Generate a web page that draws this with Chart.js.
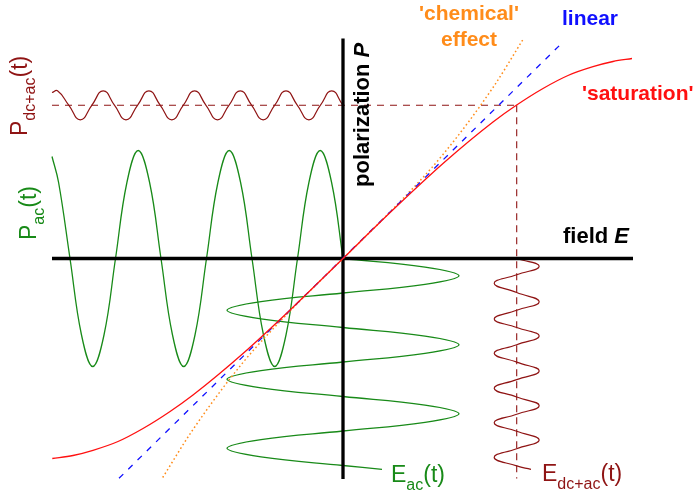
<!DOCTYPE html>
<html>
<head>
<meta charset="utf-8">
<title>Polarization response to field</title>
<script src="https://cdn.jsdelivr.net/npm/chart.js@4.4.0/dist/chart.umd.min.js"></script>
<style>
  html, body { margin: 0; padding: 0; background: #fff; }
  #wrap { width: 694px; height: 498px; }
</style>
</head>
<body>
<div id="wrap"><canvas id="fieldChart" width="694" height="498"></canvas></div>
<script>
(function(){
  // --- Data ------------------------------------------------------------------
  // visible window: field E across, polarization P up
  var E_RANGE = [-3.43, 3.51];
  var P_RANGE = [-2.395, 2.585];

  // axis extents
  var axisE = [-2.91, 2.90];
  var axisP = [-2.205, 2.20];

  // P(E) response curves
  var satE  = [-2.907, -2.7, -2.5, -2.25, -2.0, -1.733, -1.5, -1.0, -0.5, 0, 0.5, 1.0, 1.5, 1.733, 2.0, 2.25, 2.5, 2.7, 2.89];
  var satP  = [-2.0, -1.97, -1.918, -1.83, -1.70, -1.532, -1.365, -0.95, -0.487, 0, 0.487, 0.95, 1.365, 1.532, 1.70, 1.83, 1.918, 1.97, 2.0];
  var linE  = [-2.24, 2.197];
  var linP  = [-2.198, 2.162];
  var chemE = [-1.803, -1.5, -1.0, -0.5, 0, 0.5, 1.0, 1.5, 1.8];
  var chemP = [-2.19, -1.71, -1.04, -0.495, 0, 0.495, 1.04, 1.71, 2.19];

  // operating point and its guide lines
  var biasE = 1.737;
  var biasP = 1.532;
  var guideLeftE = -2.91;
  var guideBottomP = -2.2;

  // P_ac(t): small-signal polarization, drawn along the E axis
  var pAcE = [-2.91, -2.844, -2.73, -2.616, -2.503, -2.389, -2.275, -2.161, -2.048, -1.934, -1.82, -1.706, -1.593, -1.479,
              -1.365, -1.251, -1.138, -1.024, -0.91, -0.796, -0.683, -0.569, -0.455, -0.341, -0.228, -0.114, 0];
  var pAcP = [1.02, 0.76, 0, -0.76, -1.08, -0.76, 0, 0.76, 1.08, 0.76, 0, -0.76, -1.08, -0.76,
              0, 0.76, 1.08, 0.76, 0, -0.76, -1.08, -0.76, 0, 0.76, 1.08, 0.76, 0];

  // E_ac(t): field swing, time running downwards
  var eAcP = [0, -0.086, -0.173, -0.259, -0.345, -0.431, -0.518, -0.604, -0.69, -0.776, -0.863, -0.949, -1.035,
              -1.121, -1.208, -1.294, -1.38, -1.466, -1.553, -1.639, -1.725, -1.811, -1.898, -1.984, -2.07, -2.108];
  var eAcE = [0, 0.82, 1.16, 0.82, 0, -0.82, -1.16, -0.82, 0, 0.82, 1.16, 0.82, 0,
              -0.82, -1.16, -0.82, 0, 0.82, 1.16, 0.82, 0, -0.82, -1.16, -0.82, 0, 0.39];

  // P_dc+ac(t) around the operating point
  var pDcE = [-2.91, -2.855, -2.741, -2.627, -2.512, -2.398, -2.284, -2.17, -2.055, -1.941, -1.827, -1.712, -1.598, -1.484,
              -1.37, -1.255, -1.141, -1.027, -0.913, -0.798, -0.684, -0.57, -0.456, -0.341, -0.227, -0.113, 0];
  var pDcP = [1.66, 1.677, 1.532, 1.387, 1.532, 1.677, 1.532, 1.387, 1.532, 1.677, 1.532, 1.387, 1.532, 1.677,
              1.532, 1.387, 1.532, 1.677, 1.532, 1.387, 1.532, 1.677, 1.532, 1.387, 1.532, 1.677, 1.532];

  // E_dc+ac(t) around the operating point
  var eDcP = [0, -0.078, -0.163, -0.248, -0.34, -0.432, -0.518, -0.605, -0.69, -0.775, -0.862, -0.948, -1.036,
              -1.125, -1.211, -1.298, -1.385, -1.472, -1.557, -1.642, -1.728, -1.815, -1.902, -1.988, -2.074, -2.108];
  var eDcE = [1.737, 1.962, 1.737, 1.512, 1.737, 1.962, 1.737, 1.512, 1.737, 1.962, 1.737, 1.512, 1.737,
              1.962, 1.737, 1.512, 1.737, 1.962, 1.737, 1.512, 1.737, 1.962, 1.737, 1.512, 1.737, 1.88];

  // --- Colours ---------------------------------------------------------------
  var RED = '#ff1010';
  var BLUE = '#1010ff';
  var ORANGE = '#ff8c1a';
  var GREEN = '#188a18';
  var DARKRED = '#8f1414';
  var FONT = '"Liberation Sans", Arial, Helvetica, sans-serif';

  function pts(xs, ys){
    return xs.map(function(x, i){ return { x: x, y: ys[i] }; });
  }

  function line(label, data, color, width, extra){
    var ds = {
      label: label,
      data: data,
      fill: false,
      borderColor: color,
      borderWidth: width,
      pointRadius: 0,
      pointHoverRadius: 0
    };
    for (var k in extra) ds[k] = extra[k];
    return ds;
  }

  // --- Text labels -----------------------------------------------------------
  // runs: [text, font, baseline shift]
  function drawRuns(ctx, x, y, runs, color, angle){
    ctx.save();
    ctx.translate(x, y);
    if (angle) ctx.rotate(angle);
    ctx.fillStyle = color;
    ctx.textBaseline = 'alphabetic';
    ctx.textAlign = 'left';
    var cx = 0;
    runs.forEach(function(r){
      ctx.font = r[1];
      ctx.fillText(r[0], cx, r[2] || 0);
      cx += ctx.measureText(r[0]).width;
    });
    ctx.restore();
  }

  var labelPlugin = {
    id: 'diagramLabels',
    afterDatasetsDraw: function(chart){
      var ctx = chart.ctx;
      var bold = 'bold 21px ' + FONT;
      var big = '23px ' + FONT;
      var sub = '16px ' + FONT;
      var up = -Math.PI / 2;

      ctx.save();
      ctx.textAlign = 'center';
      ctx.textBaseline = 'alphabetic';
      ctx.font = bold;
      ctx.fillStyle = ORANGE;
      ctx.fillText("'chemical'", 469, 19.5);
      ctx.fillText('effect', 469, 45.5);
      ctx.restore();

      drawRuns(ctx, 562, 25, [['linear', bold]], BLUE);
      drawRuns(ctx, 582, 100, [["'saturation'", bold]], RED);
      drawRuns(ctx, 563, 243, [['field ', 'bold 22px ' + FONT], ['E', 'italic bold 22px ' + FONT]], '#000');
      drawRuns(ctx, 369, 187, [['polarization ', 'bold 22px ' + FONT], ['P', 'italic bold 22px ' + FONT]], '#000', up);

      drawRuns(ctx, 27, 136, [['P', big], ['dc+ac', sub, 8], ['(t)', big]], DARKRED, up);
      drawRuns(ctx, 36, 240, [['P', big], ['ac', sub, 8], ['(t)', big]], GREEN, up);
      drawRuns(ctx, 391, 482, [['E', big], ['ac', sub, 8], ['(t)', big]], GREEN);
      drawRuns(ctx, 542, 481, [['E', big], ['dc+ac', sub, 8], ['(t)', big]], DARKRED);
    }
  };

  // --- Chart -----------------------------------------------------------------
  var smooth = { cubicInterpolationMode: 'monotone' };

  var datasets = [
    line('saturation', pts(satE, satP), RED, 1.3, Object.assign({ order: 1 }, smooth)),
    line('linear', pts(linE, linP), BLUE, 1.3, { order: 2, borderDash: [6, 7] }),
    line('chemical effect', pts(chemE, chemP), ORANGE, 1.5, Object.assign({ order: 3, borderDash: [1.6, 2.6] }, smooth)),
    line('field axis', pts(axisE, [0, 0]), '#000', 3.3, { order: 4 }),
    line('polarization axis', pts([0, 0], axisP), '#000', 3.3, { order: 5 }),
    line('bias P', pts([guideLeftE, biasE], [biasP, biasP]), DARKRED, 1.1, { order: 6, borderDash: [7, 6] }),
    line('bias E', pts([biasE, biasE], [biasP, guideBottomP]), DARKRED, 1.1, { order: 7, borderDash: [7, 5] }),
    line('P_dc+ac', pts(pDcE, pDcP), DARKRED, 1.2, { order: 8, tension: 0.5 }),
    line('E_dc+ac', pts(eDcE, eDcP), DARKRED, 1.2, { order: 9, tension: 0.5 }),
    line('P_ac', pts(pAcE, pAcP), GREEN, 1.3, { order: 10, tension: 0.4 }),
    line('E_ac', pts(eAcE, eAcP), GREEN, 1.3, { order: 11, tension: 0.4 })
  ];

  new Chart(document.getElementById('fieldChart').getContext('2d'), {
    type: 'line',
    data: { datasets: datasets },
    options: {
      responsive: false,
      animation: false,
      events: [],
      layout: { padding: 0 },
      plugins: {
        legend: { display: false },
        tooltip: { enabled: false }
      },
      scales: {
        x: { type: 'linear', display: false, min: E_RANGE[0], max: E_RANGE[1] },
        y: { type: 'linear', display: false, min: P_RANGE[0], max: P_RANGE[1] }
      }
    },
    plugins: [labelPlugin]
  });
})();
</script>
</body>
</html>
